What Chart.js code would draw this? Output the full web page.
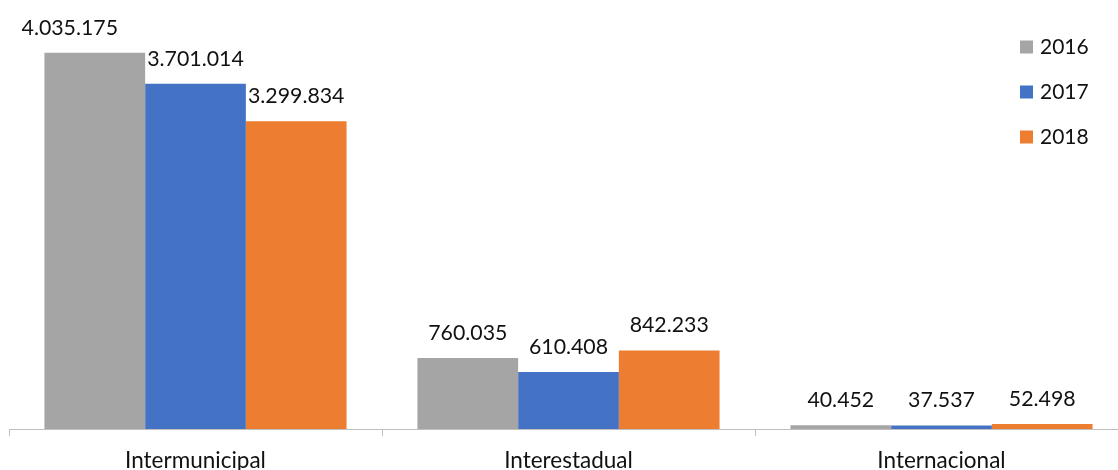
<!DOCTYPE html>
<html>
<head>
<meta charset="utf-8">
<script src="https://cdn.jsdelivr.net/npm/chart.js@4/dist/chart.umd.min.js"></script>
<style>
  html, body { margin: 0; padding: 0; overflow: hidden; background: #fff; }
  #wrap { width: 1130px; height: 470px; position: relative; }
</style>
</head>
<body>
<div id="wrap"><canvas id="c"></canvas></div>
<script>
const categories = ['Intermunicipal', 'Interestadual', 'Internacional'];
const seriesNames = ['2016', '2017', '2018'];
const values2016 = [4035175, 760035, 40452];
const values2017 = [3701014, 610408, 37537];
const values2018 = [3299834, 842233, 52498];

const colors = ['#A5A5A5', '#4472C4', '#ED7D31'];
const FONT = 'Lato, "Open Sans", sans-serif';

function fmt(n) {
  return String(n).replace(/\B(?=(\d{3})+(?!\d))/g, '.');
}

// label horizontal nudges [dataset][category] (style only)
const labelDx = [[-25, 0, 0], [0, 0, 0], [0, 0, 0]];

const labelPlugin = {
  id: 'valueLabels',
  afterDatasetsDraw(chart) {
    const ctx = chart.ctx;
    ctx.save();
    ctx.font = '21.3px ' + FONT;
    ctx.fillStyle = '#111';
    ctx.textAlign = 'center';
    ctx.textBaseline = 'middle';
    chart.data.datasets.forEach((ds, di) => {
      const meta = chart.getDatasetMeta(di);
      meta.data.forEach((bar, i) => {
        ctx.fillText(fmt(ds.data[i]), bar.x + labelDx[di][i], bar.y - 25);
      });
    });
    ctx.restore();
  }
};

const legendPlugin = {
  id: 'sideLegend',
  afterDraw(chart) {
    const ctx = chart.ctx;
    ctx.save();
    ctx.font = '21px ' + FONT;
    ctx.textAlign = 'left';
    ctx.textBaseline = 'middle';
    chart.data.datasets.forEach((ds, di) => {
      const cy = 47 + di * 45;
      ctx.fillStyle = ds.backgroundColor;
      ctx.fillRect(1020, cy - 6.5, 13, 13);
      ctx.fillStyle = '#111';
      ctx.fillText(ds.label, 1040, cy);
    });
    ctx.restore();
  }
};

new Chart(document.getElementById('c'), {
  type: 'bar',
  data: {
    labels: categories,
    datasets: [
      { label: seriesNames[0], data: values2016, backgroundColor: colors[0] },
      { label: seriesNames[1], data: values2017, backgroundColor: colors[1] },
      { label: seriesNames[2], data: values2018, backgroundColor: colors[2] }
    ]
  },
  options: {
    responsive: true,
    maintainAspectRatio: false,
    animation: false,
    devicePixelRatio: 1,
    layout: { padding: { left: 9, right: 2, top: 0, bottom: 0 } },
    datasets: { bar: { categoryPercentage: 0.81, barPercentage: 1.0, borderWidth: 0 } },
    plugins: { legend: { display: false }, tooltip: { enabled: false } },
    scales: {
      x: {
        afterFit(scale) { scale.height = 41; },
        grid: { offset: true, drawOnChartArea: false, drawTicks: true, tickLength: 7, color: '#BFBFBF', lineWidth: 1 },
        border: { display: true, color: '#BFBFBF', width: 1 },
        ticks: { color: '#111', font: { family: FONT, size: 22.5 }, padding: 11, maxRotation: 0 }
      },
      y: {
        display: false,
        min: 0,
        max: 4600000
      }
    }
  },
  plugins: [labelPlugin, legendPlugin]
});
</script>
</body>
</html>
